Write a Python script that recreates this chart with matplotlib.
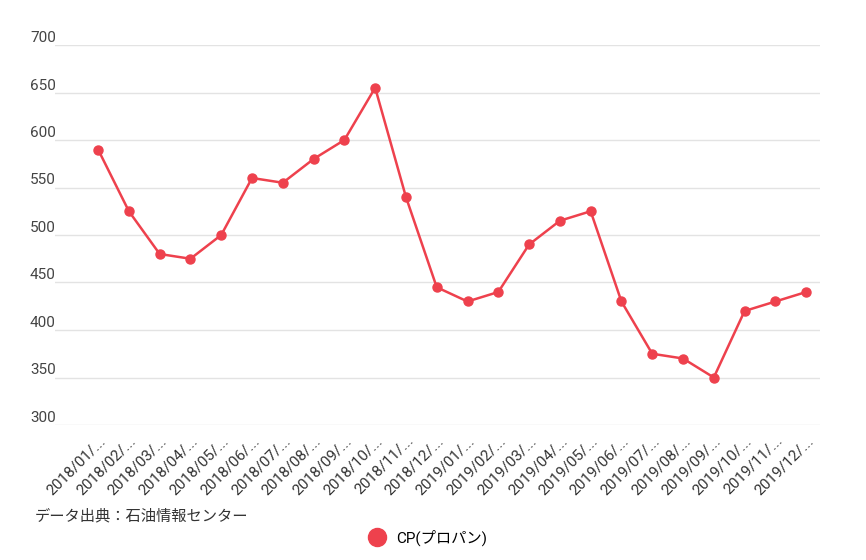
import matplotlib
matplotlib.use("Agg")
import matplotlib.pyplot as plt

categories = [f"{y}/{m:02d}/..." for y in (2018, 2019) for m in range(1, 13)]
values = [590, 525, 480, 475, 500, 560, 555, 580, 600, 655, 540, 445,
          430, 440, 490, 515, 525, 430, 375, 370, 350, 420, 430, 440]
yticks = [300, 350, 400, 450, 500, 550, 600, 650, 700]
color = "#ee414d"

plt.rcParams["font.family"] = ["Roboto", "Noto Sans CJK JP"]
fig = plt.figure(figsize=(8.66, 5.60), dpi=100)
ax = fig.add_axes([55/866, 135/560, 765/866, 380/560])
x = range(len(values))
ax.plot(x, values, color=color, lw=1.8, marker="o", ms=6.5, zorder=3, clip_on=False)
ax.set_xlim(-1.40, 23.45)
ax.set_ylim(300, 700)
ax.set_yticks(yticks)
ax.set_yticklabels([str(t) for t in yticks], fontsize=11, color="#444444")
ax.tick_params(axis="y", length=0, pad=5)
for t in ax.get_yticklabels():
    t.set_horizontalalignment("left")
    t.set_verticalalignment("bottom")
ax.tick_params(axis="y", pad=7)
for t in ax.get_yticklabels():
    t.set_x(-0.02)
ax.set_xticks(list(x))
ax.set_xticklabels(categories, rotation=45, ha="right", rotation_mode="anchor",
                   fontsize=11, color="#333333")
ax.tick_params(axis="x", length=0, pad=6)
ax.grid(axis="y", color="#e3e3e3", lw=1)
for s in ax.spines.values():
    s.set_visible(False)
fig.text(0.04, 0.07, "データ出典：石油情報センター", fontsize=11, color="#333333")
fig.legend(handles=[plt.Line2D([], [], color=color, marker="o", ls="", ms=13)],
           labels=["CP(プロパン)"], loc="center", bbox_to_anchor=(0.49, 0.04),
           frameon=False, fontsize=11, handletextpad=0.3)
fig.savefig("out.png")
